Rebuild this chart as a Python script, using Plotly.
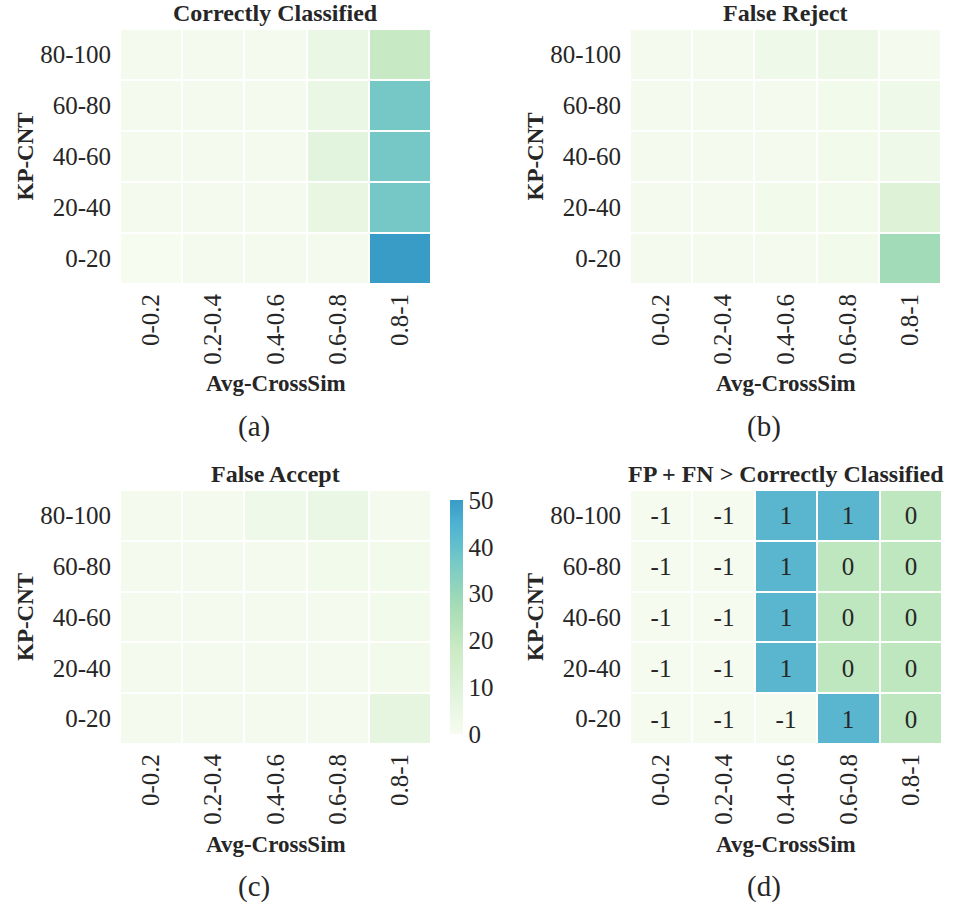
import plotly.graph_objects as go

W, H = 954, 907

x_labels = ["0-0.2", "0.2-0.4", "0.4-0.6", "0.6-0.8", "0.8-1"]
y_labels = ["0-20", "20-40", "40-60", "60-80", "80-100"]  # bottom -> top

# rows follow y_labels order (bottom to top)
correct = [
    [0, 1, 1, 1, 50],
    [1, 1, 1, 6, 37],
    [1, 1, 1, 8, 37],
    [1, 1, 1, 5, 37],
    [1, 1, 1, 5, 19],
]
false_reject = [
    [1, 1, 1, 2, 28],
    [1, 1, 2, 2, 10],
    [1, 1, 1, 2, 3],
    [1, 1, 1, 2, 3],
    [1, 1, 3, 4, 1],
]
false_accept = [
    [1, 1, 1, 1, 7],
    [1, 1, 1, 1, 2],
    [1, 1, 1, 1, 2],
    [1, 1, 1, 2, 2],
    [1, 1, 3, 5, 1],
]
fpfn = [
    [-1, -1, -1, 1, 0],
    [-1, -1, 1, 0, 0],
    [-1, -1, 1, 0, 0],
    [-1, -1, 1, 0, 0],
    [-1, -1, 1, 1, 0],
]

titles = ["Correctly Classified", "False Reject", "False Accept",
          "FP + FN > Correctly Classified"]
captions = ["(a)", "(b)", "(c)", "(d)"]

# GnBu truncated at 0.7
gnbu_trunc = [
    [0.0, "#f7fcf0"],
    [0.125 / 0.7, "#e0f3db"],
    [0.25 / 0.7, "#ccebc5"],
    [0.375 / 0.7, "#a8ddb5"],
    [0.5 / 0.7, "#7bccc4"],
    [0.625 / 0.7, "#4eb3d3"],
    [1.0, "#399cc6"],
]
d_scale = [[0.0, "#f5fbef"], [0.5, "#bee6bf"], [1.0, "#5ab6cf"]]

SERIF = "Liberation Serif"
TXT = "#262626"

# pixel boxes of heatmaps: (x0, x1, y0, y1)
boxes = [
    (120, 431, 29, 284),
    (630, 941, 29, 284),
    (120, 431, 490, 744),
    (630, 942, 490, 744),
]

fig = go.Figure()
datasets = [correct, false_reject, false_accept, fpfn]

for i, (z, box) in enumerate(zip(datasets, boxes)):
    n = i + 1
    xa = "x" if n == 1 else f"x{n}"
    ya = "y" if n == 1 else f"y{n}"
    kw = dict(
        z=z, x=x_labels, y=y_labels, xaxis=xa, yaxis=ya,
        xgap=2, ygap=2, hoverinfo="z",
    )
    if i < 3:
        kw.update(colorscale=gnbu_trunc, zmin=0, zmax=50,
                  showscale=(i == 2))
        if i == 2:
            kw["colorbar"] = dict(
                x=450 / W, xanchor="left", xpad=0,
                y=1 - (490 + 744) / 2 / H, yanchor="middle",
                len=254, lenmode="pixels", thickness=13,
                outlinewidth=0, ticks="", tickvals=[0, 10, 20, 30, 40, 50],
                tickfont=dict(family=SERIF, size=25, color=TXT),
            )
    else:
        kw.update(colorscale=d_scale, zmin=-1, zmax=1, showscale=False,
                  text=[[str(v) for v in row] for row in z],
                  texttemplate="%{text}",
                  textfont=dict(family=SERIF, size=25, color=TXT))
    fig.add_trace(go.Heatmap(**kw))

    x0, x1, y0, y1 = box
    axis_x = dict(domain=[x0 / W, x1 / W], anchor=ya, tickangle=-90,
                  showgrid=False, zeroline=False, showline=False, ticks="",
                  ticklabelstandoff=4,
                  tickfont=dict(family=SERIF, size=25, color=TXT))
    axis_y = dict(domain=[1 - y1 / H, 1 - y0 / H], anchor=xa,
                  showgrid=False, zeroline=False, showline=False, ticks="",
                  ticklabelstandoff=8,
                  tickfont=dict(family=SERIF, size=25, color=TXT))
    fig.layout[("xaxis" if n == 1 else f"xaxis{n}")] = axis_x
    fig.layout[("yaxis" if n == 1 else f"yaxis{n}")] = axis_y

    cx = (x0 + x1) / 2
    # title
    fig.add_annotation(text=f"<b>{titles[i]}</b>", xref="paper", yref="paper",
                       x=cx / W, y=1 - (y0 - 16) / H, showarrow=False,
                       xanchor="center", yanchor="middle",
                       font=dict(family=SERIF, size=24, color=TXT))
    # x axis title
    fig.add_annotation(text="<b>Avg-CrossSim</b>", xref="paper", yref="paper",
                       x=cx / W, y=1 - (y1 + 100) / H, showarrow=False,
                       xanchor="center", yanchor="middle",
                       font=dict(family=SERIF, size=23, color=TXT))
    # y axis title
    fig.add_annotation(text="<b>KP-CNT</b>", xref="paper", yref="paper",
                       x=(x0 - 95) / W, y=1 - ((y0 + y1) / 2) / H,
                       showarrow=False, textangle=-90,
                       xanchor="center", yanchor="middle",
                       font=dict(family=SERIF, size=23, color=TXT))
    # caption
    fig.add_annotation(text=captions[i], xref="paper", yref="paper",
                       x=(cx - 22) / W, y=1 - (y1 + 142) / H, showarrow=False,
                       xanchor="center", yanchor="middle",
                       font=dict(family=SERIF, size=29, color=TXT))

fig.update_layout(
    width=W, height=H, margin=dict(l=0, r=0, t=0, b=0),
    paper_bgcolor="white", plot_bgcolor="white",
)

fig.write_html("out.html")
